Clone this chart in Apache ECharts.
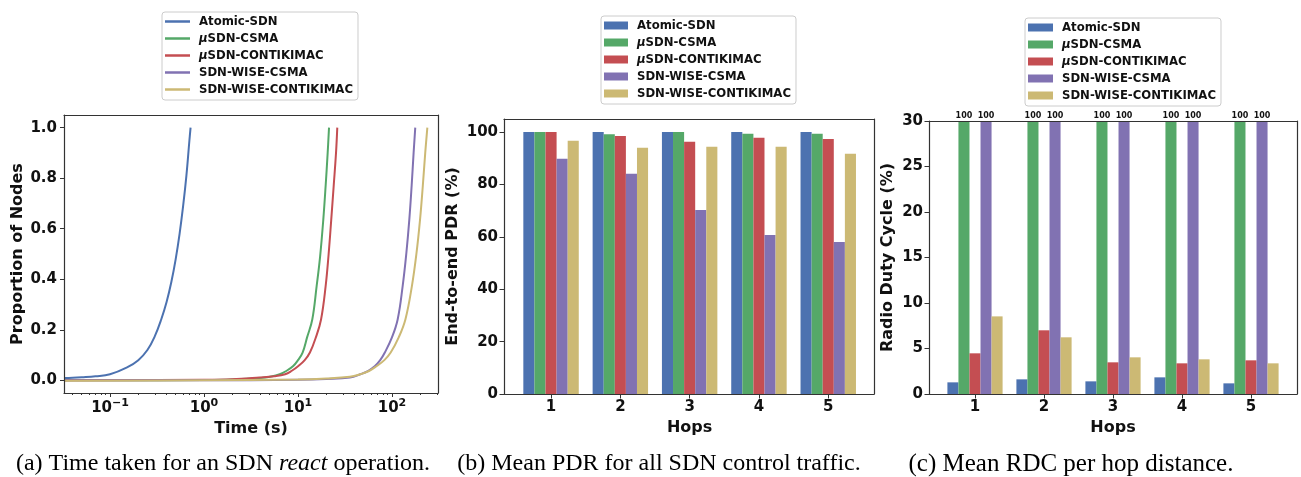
<!DOCTYPE html>
<html><head><meta charset="utf-8">
<script src="https://cdn.jsdelivr.net/npm/echarts@6/dist/echarts.min.js"></script>
<style>html,body{margin:0;padding:0;background:#fff}#c{width:1301px;height:477px}</style>
</head><body><div id="c"></div>
<script>
// ---------- data ----------
const seriesNames = ['Atomic-SDN', 'μSDN-CSMA', 'μSDN-CONTIKIMAC', 'SDN-WISE-CSMA', 'SDN-WISE-CONTIKIMAC'];
const hops = ['1', '2', '3', '4', '5'];

// (a) proportion of nodes vs time (s)  [time, proportion]
const timeAtomic = [[0.0324,0.009],[0.04,0.01],[0.05,0.012],[0.07,0.016],[0.1,0.024],[0.15,0.05],[0.2,0.08],[0.25,0.12],[0.3,0.175],[0.35,0.24],[0.4,0.31],[0.45,0.39],[0.5,0.48],[0.55,0.58],[0.6,0.69],[0.65,0.81],[0.7,0.95],[0.72,1.0]];
const timeUCsma = [[0.0324,0.0],[1,0.001],[2,0.003],[3.9,0.009],[5.2,0.015],[6.4,0.024],[7.5,0.037],[8.9,0.057],[10,0.08],[11.2,0.11],[12.5,0.17],[14.2,0.241],[15.8,0.373],[17.2,0.49],[18.6,0.636],[19.7,0.77],[20.7,0.9],[21.4,1.0]];
const timeUContiki = [[0.0324,0.0],[1,0.002],[2,0.004],[3.9,0.011],[5.6,0.016],[7.3,0.024],[8.6,0.038],[10.1,0.057],[11.8,0.08],[13.4,0.11],[15.5,0.17],[17.6,0.241],[19.7,0.373],[21.2,0.5],[22.6,0.636],[24,0.77],[25.4,0.9],[26.2,1.0]];
const timeWiseCsma = [[0.0324,0.0],[1,0.0],[10,0.002],[20,0.005],[35.7,0.011],[46,0.024],[56,0.038],[66,0.057],[75,0.08],[84,0.11],[100,0.17],[115,0.241],[130,0.373],[142,0.5],[153,0.636],[162,0.77],[170,0.9],[177,1.0]];
const timeWiseContiki = [[0.0324,-0.002],[1,0.0],[10,0.003],[20,0.007],[35.7,0.014],[46,0.024],[57,0.037],[69,0.057],[83,0.08],[97,0.11],[118,0.17],[139,0.241],[163,0.373],[182,0.5],[199,0.636],[213,0.77],[226,0.9],[238,1.0]];

// (b) end-to-end PDR (%)
const pdrAtomic = [100, 100, 100, 100, 100];
const pdrUCsma = [100, 99.2, 100, 99.4, 99.4];
const pdrUContiki = [100, 98.5, 96.3, 97.8, 97.4];
const pdrWiseCsma = [89.8, 84.1, 70.3, 60.7, 58.0];
const pdrWiseContiki = [96.7, 94.0, 94.4, 94.4, 91.7];

// (c) radio duty cycle (%)
const rdcAtomic = [1.28, 1.61, 1.39, 1.83, 1.17];
const rdcUCsma = [100, 100, 100, 100, 100];
const rdcUContiki = [4.47, 7.0, 3.48, 3.37, 3.70];
const rdcWiseCsma = [100, 100, 100, 100, 100];
const rdcWiseContiki = [8.53, 6.23, 4.03, 3.81, 3.37];

// tick labels
const timeTicks = [0.1, 1, 10, 100];
const timeTickText = {0.1: '−1', 1: '0', 10: '1', 100: '2'};
const timeMinorTicks = [0.04,0.05,0.06,0.07,0.08,0.09,0.2,0.3,0.4,0.5,0.6,0.7,0.8,0.9,2,3,4,5,6,7,8,9,20,30,40,50,60,70,80,90,200,300];
const propTicks = [0, 0.2, 0.4, 0.6, 0.8, 1.0];
const pdrTicks = [0, 20, 40, 60, 80, 100];
const rdcTicks = [0, 5, 10, 15, 20, 25, 30];

// ---------- style ----------
const colors = ['#4C72B0', '#55A868', '#C44E52', '#8172B2', '#CCB974'];
const FONT = 'DejaVu Sans';
const SPINE = '#333';
const tickFont = {fontFamily: FONT, fontWeight: 'bold', fontSize: 15, color: '#111'};
const nameFont = {fontFamily: FONT, fontWeight: 'bold', fontSize: 16, color: '#111'};

const xAxes = [], yAxes = [];
function addX(o) { xAxes.push(o); return xAxes.length - 1; }
function addY(o) { yAxes.push(o); return yAxes.length - 1; }
function lineOnly(gridIndex, position, type, min, max) {
  return {type, gridIndex, position, min, max, z: 5, silent: true,
    axisLine: {show: true, onZero: false, lineStyle: {color: SPINE, width: 1.2}},
    axisTick: {show: false}, axisLabel: {show: false}, splitLine: {show: false}};
}

const grids = [
  {left: 64, top: 115, width: 374, height: 278},
  {left: 504, top: 119, width: 370, height: 275},
  {left: 516.4, top: 119, width: 346.5, height: 275},
  {left: 929, top: 121, width: 368, height: 273},
  {left: 940.5, top: 121, width: 345, height: 273}
];
grids.forEach(g => { g.containLabel = false; g.outerBoundsMode = 'none'; });

// ---- panel (a) axes ----
const TMIN = 0.0324, TMAX = 309;
const axA = addX({type: 'log', logBase: 10, gridIndex: 0, position: 'bottom', min: TMIN, max: TMAX, z: 5,
  name: 'Time (s)', nameLocation: 'middle', nameGap: 24, nameTextStyle: nameFont,
  axisLine: {show: true, onZero: false, lineStyle: {color: SPINE, width: 1.2}},
  axisTick: {show: true, length: 4, customValues: timeTicks, lineStyle: {color: SPINE}},
  axisLabel: {show: true, margin: 5, customValues: timeTicks,
    formatter: v => '{b|10}{s|' + timeTickText[v] + '}',
    rich: {b: {fontFamily: FONT, fontWeight: 'bold', fontSize: 15, color: '#111', verticalAlign: 'bottom', lineHeight: 18},
           s: {fontFamily: FONT, fontWeight: 'bold', fontSize: 11, color: '#111', verticalAlign: 'top', lineHeight: 12}}},
  splitLine: {show: false}});
addX({type: 'log', logBase: 10, gridIndex: 0, position: 'bottom', min: TMIN, max: TMAX, silent: true,
  axisLine: {show: false, onZero: false},
  axisTick: {show: true, length: 2, customValues: timeMinorTicks, lineStyle: {color: SPINE}},
  axisLabel: {show: false}, splitLine: {show: false}});
addX(lineOnly(0, 'top', 'value', 0, 1));
const ayA = addY({type: 'value', gridIndex: 0, position: 'left', min: -0.05, max: 1.05, z: 5,
  name: 'Proportion of Nodes', nameLocation: 'middle', nameGap: 38, nameTextStyle: nameFont,
  axisLine: {show: true, onZero: false, lineStyle: {color: SPINE, width: 1.2}},
  axisTick: {show: true, length: 4, customValues: propTicks, lineStyle: {color: SPINE}},
  axisLabel: {show: true, margin: 7, customValues: propTicks, formatter: v => v.toFixed(1), ...tickFont},
  splitLine: {show: false}});
addY(lineOnly(0, 'right', 'value', 0, 1));

// ---- panel (b) axes ----
addX(lineOnly(1, 'bottom', 'value', 0, 1));
addX(lineOnly(1, 'top', 'value', 0, 1));
addY({type: 'value', gridIndex: 1, position: 'left', min: 0, max: 105, z: 5,
  name: 'End-to-end PDR (%)', nameLocation: 'middle', nameGap: 43, nameTextStyle: nameFont,
  axisLine: {show: true, onZero: false, lineStyle: {color: SPINE, width: 1.2}},
  axisTick: {show: true, length: 4.5, customValues: pdrTicks, lineStyle: {color: SPINE}},
  axisLabel: {show: true, margin: 6, customValues: pdrTicks, ...tickFont},
  splitLine: {show: false}});
addY(lineOnly(1, 'right', 'value', 0, 1));
const axB = addX({type: 'category', gridIndex: 2, position: 'bottom', data: hops, z: 5,
  name: 'Hops', nameLocation: 'middle', nameGap: 23, nameTextStyle: nameFont,
  axisLine: {show: false, onZero: false},
  axisTick: {show: true, alignWithLabel: true, length: 4.5, lineStyle: {color: SPINE}},
  axisLabel: {show: true, margin: 6, ...tickFont}, splitLine: {show: false}});
const ayB = addY({type: 'value', gridIndex: 2, min: 0, max: 105, show: false});

// ---- panel (c) axes ----
addX(lineOnly(3, 'bottom', 'value', 0, 1));
addX(lineOnly(3, 'top', 'value', 0, 1));
addY({type: 'value', gridIndex: 3, position: 'left', min: 0, max: 30, z: 5,
  name: 'Radio Duty Cycle (%)', nameLocation: 'middle', nameGap: 33, nameTextStyle: nameFont,
  axisLine: {show: true, onZero: false, lineStyle: {color: SPINE, width: 1.2}},
  axisTick: {show: true, length: 4.5, customValues: rdcTicks, lineStyle: {color: SPINE}},
  axisLabel: {show: true, margin: 6, customValues: rdcTicks, ...tickFont},
  splitLine: {show: false}});
addY(lineOnly(3, 'right', 'value', 0, 1));
const axC = addX({type: 'category', gridIndex: 4, position: 'bottom', data: hops, z: 5,
  name: 'Hops', nameLocation: 'middle', nameGap: 23, nameTextStyle: nameFont,
  axisLine: {show: false, onZero: false},
  axisTick: {show: true, alignWithLabel: true, length: 4.5, lineStyle: {color: SPINE}},
  axisLabel: {show: true, margin: 6, ...tickFont}, splitLine: {show: false}});
const ayC = addY({type: 'value', gridIndex: 4, min: 0, max: 30, show: false});

// ---------- series ----------
const timeData = [timeAtomic, timeUCsma, timeUContiki, timeWiseCsma, timeWiseContiki];
const pdrData = [pdrAtomic, pdrUCsma, pdrUContiki, pdrWiseCsma, pdrWiseContiki];
const rdcData = [rdcAtomic, rdcUCsma, rdcUContiki, rdcWiseCsma, rdcWiseContiki];
const series = [];
seriesNames.forEach((n, i) => {
  series.push({type: 'line', name: n, xAxisIndex: axA, yAxisIndex: ayA, data: timeData[i],
    showSymbol: false, smooth: 0.4, color: colors[i],
    lineStyle: {width: 2, color: colors[i]}, animation: false});
});
seriesNames.forEach((n, i) => {
  series.push({type: 'bar', name: n, xAxisIndex: axB, yAxisIndex: ayB, data: pdrData[i],
    barGap: '0%', barCategoryGap: '20%', itemStyle: {color: colors[i]}, animation: false});
});
seriesNames.forEach((n, i) => {
  series.push({type: 'bar', name: n, xAxisIndex: axC, yAxisIndex: ayC, data: rdcData[i],
    barGap: '0%', barCategoryGap: '20%', clip: true, itemStyle: {color: colors[i]}, animation: false,
    label: {show: true, position: 'top', distance: 1, fontFamily: FONT, fontWeight: 'bold', fontSize: 8, color: '#111',
      formatter: p => (p.value > 30 ? String(p.value) : '')}});
});

function legendAt(left, top, iw, ih) {
  return {data: seriesNames, orient: 'vertical', left, top, icon: 'rect', itemWidth: iw, itemHeight: ih,
    itemGap: 4, padding: [3, 5, 4, 3], backgroundColor: 'rgba(255,255,255,0.85)', borderColor: '#ccc',
    borderWidth: 1, borderRadius: 3, selectedMode: false,
    formatter: n => n.replace('μ', '{i|μ}'),
    textStyle: {fontFamily: FONT, fontWeight: 'bold', fontSize: 11.7, color: '#111', lineHeight: 13, padding: [0, 0, 0, 4],
      rich: {i: {fontFamily: FONT, fontWeight: 'bold', fontStyle: 'italic', fontSize: 11.7, color: '#111', lineHeight: 13}}}};
}

const capFont = 'Liberation Serif';
function caption(x, text, size) {
  return {type: 'text', x, y: 464, silent: true,
    style: {text, textAlign: 'center', textVerticalAlign: 'middle', fontFamily: capFont, fontSize: size, fill: '#000',
      rich: {i: {fontFamily: capFont, fontSize: size, fontStyle: 'italic', fill: '#000'}}}};
}

const chart = echarts.init(document.getElementById('c'));
chart.setOption({
  animation: false,
  backgroundColor: '#fff',
  grid: grids,
  xAxis: xAxes,
  yAxis: yAxes,
  legend: [legendAt(162, 12, 25, 2.5), legendAt(601, 16, 24, 8), legendAt(1025, 18, 25, 8)],
  series,
  graphic: [
    caption(223, '(a) Time taken for an SDN {i|react} operation.', 24),
    caption(659, '(b) Mean PDR for all SDN control traffic.', 24),
    caption(1071, '(c) Mean RDC per hop distance.', 25)
  ]
});
</script>
</body></html>
